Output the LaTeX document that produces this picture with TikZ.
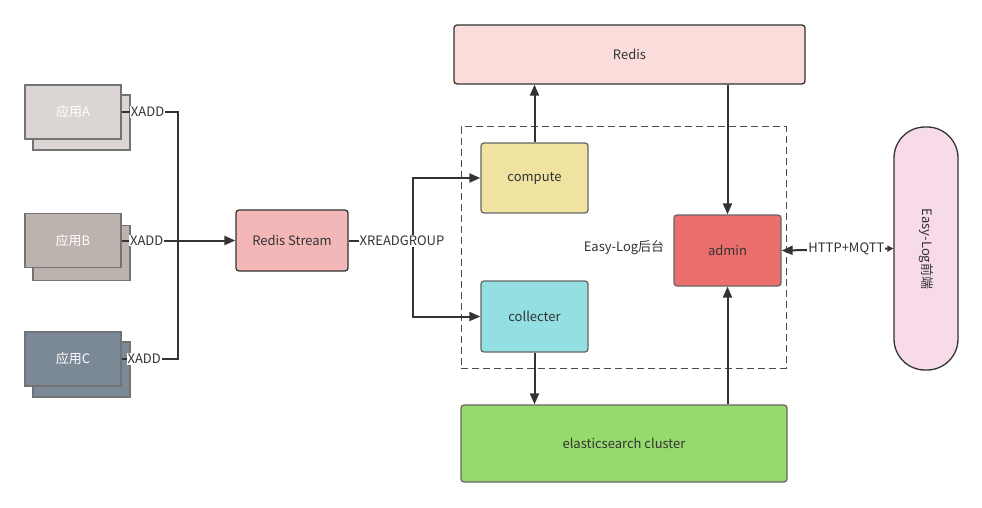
\documentclass[tikz,border=0pt]{standalone}
\usepackage{fontspec}
\setmainfont{Noto Sans CJK SC}
\usetikzlibrary{arrows.meta}
\definecolor{textgray}{HTML}{333333}
\definecolor{linegray}{HTML}{333333}
\definecolor{appAfill}{HTML}{DBD6D3}
\definecolor{appBfill}{HTML}{BDB3AE}
\definecolor{appCfill}{HTML}{7B8896}
\definecolor{streamfill}{HTML}{F4B7B7}
\definecolor{redisfill}{HTML}{FADCDB}
\definecolor{computefill}{HTML}{F0E2A1}
\definecolor{collectfill}{HTML}{93DFE1}
\definecolor{adminfill}{HTML}{EA6F6D}
\definecolor{esfill}{HTML}{96D96C}
\definecolor{frontfill}{HTML}{F8DBE9}

\begin{document}
\begin{tikzpicture}[x=1pt,y=-1pt,font=\fontsize{13}{15}\selectfont,
    box/.style={draw=textgray,line width=1.3pt,rounded corners=3pt,align=center,text=textgray,inner sep=0pt},
    app/.style={draw=black!55,line width=1.3pt,minimum width=96pt,minimum height=54pt,text=white,inner sep=0pt},
    lbl/.style={fill=white,inner sep=1pt,text=textgray},
    link/.style={line width=2pt,draw=linegray},
    arr/.style={link,-{Triangle[length=11pt,width=9pt]}}]
  \useasboundingbox (0,0) rectangle (982,508);
  % applications, each with a copy behind it
  \node[app,fill=appAfill,minimum width=97pt,minimum height=55pt] (appAback) at (81.5,122.5) {};
  \node[app,fill=appAfill] (appA) at (73,112) {应用A};
  \node[app,fill=appBfill,minimum width=97pt,minimum height=55pt] (appBback) at (81.5,253) {};
  \node[app,fill=appBfill] (appB) at (73,240.5) {应用B};
  \node[app,fill=appCfill,minimum width=97pt,minimum height=55pt] (appCback) at (81.5,369.5) {};
  \node[app,fill=appCfill] (appC) at (73,359) {应用C};
  % stream and backend
  \node[box,fill=streamfill,minimum width=112pt,minimum height=61pt] (stream) at (292,240.5) {Redis Stream};
  \node[draw=black!70,dashed,line width=1pt,dash pattern=on 7pt off 4pt,minimum width=325pt,minimum height=241pt,inner sep=0pt] (backend) at (623.5,247.5) {};
  \node[text=textgray] (backendlbl) at (624,248) {Easy-Log后台};
  \node[box,draw=black!60,fill=computefill,minimum width=107pt,minimum height=70pt] (compute) at (534.5,178) {compute};
  \node[box,draw=black!60,fill=collectfill,minimum width=107pt,minimum height=71pt] (collecter) at (534.5,316.5) {collecter};
  \node[box,draw=black!60,fill=adminfill,minimum width=107pt,minimum height=71pt] (admin) at (727.5,250.5) {admin};
  \node[box,fill=redisfill,minimum width=351pt,minimum height=59pt] (redis) at (629.5,54.5) {Redis};
  \node[box,draw=black!60,fill=esfill,minimum width=326pt,minimum height=77pt] (es) at (624,443.5) {elasticsearch cluster};
  \node[draw=textgray,line width=1.3pt,fill=frontfill,rounded corners=31pt,minimum width=64pt,minimum height=243pt,inner sep=0pt] (front) at (926,248.5) {};
  \node[text=textgray,rotate=-90] (frontlbl) at (926,249) {Easy-Log前端};
  % XADD
  \coordinate (bus) at (178,240.5);
  \draw[link] (appA.east) -| node[lbl,pos=0.23] {XADD} (bus);
  \draw[link] (appC.east) -| node[lbl,pos=0.20] {XADD} (bus);
  \draw[arr] (appB.east) -- node[lbl,pos=0.22] {XADD} (stream.west);
  % XREADGROUP
  \coordinate (split) at (413,240.5);
  \draw[link] (stream.east) -- (split);
  \draw[arr] (split) |- (compute.west);
  \draw[arr] (split) |- (collecter.west);
  \node[lbl] (readlbl) at (402,241) {XREADGROUP};
  % to and from the stores
  \draw[arr] (compute.north) -- (compute.north |- redis.south);
  \draw[arr] (admin.north |- redis.south) -- (admin.north);
  \draw[arr] (collecter.south) -- (collecter.south |- es.north);
  \draw[arr] (admin.south |- es.north) -- (admin.south);
  \draw[link,{Triangle[length=11pt,width=9pt]}-{Triangle[length=6pt,width=6pt]}] (admin.east) -- node[lbl,pos=0.58] {HTTP+MQTT} (front.west);
\end{tikzpicture}
\end{document}
